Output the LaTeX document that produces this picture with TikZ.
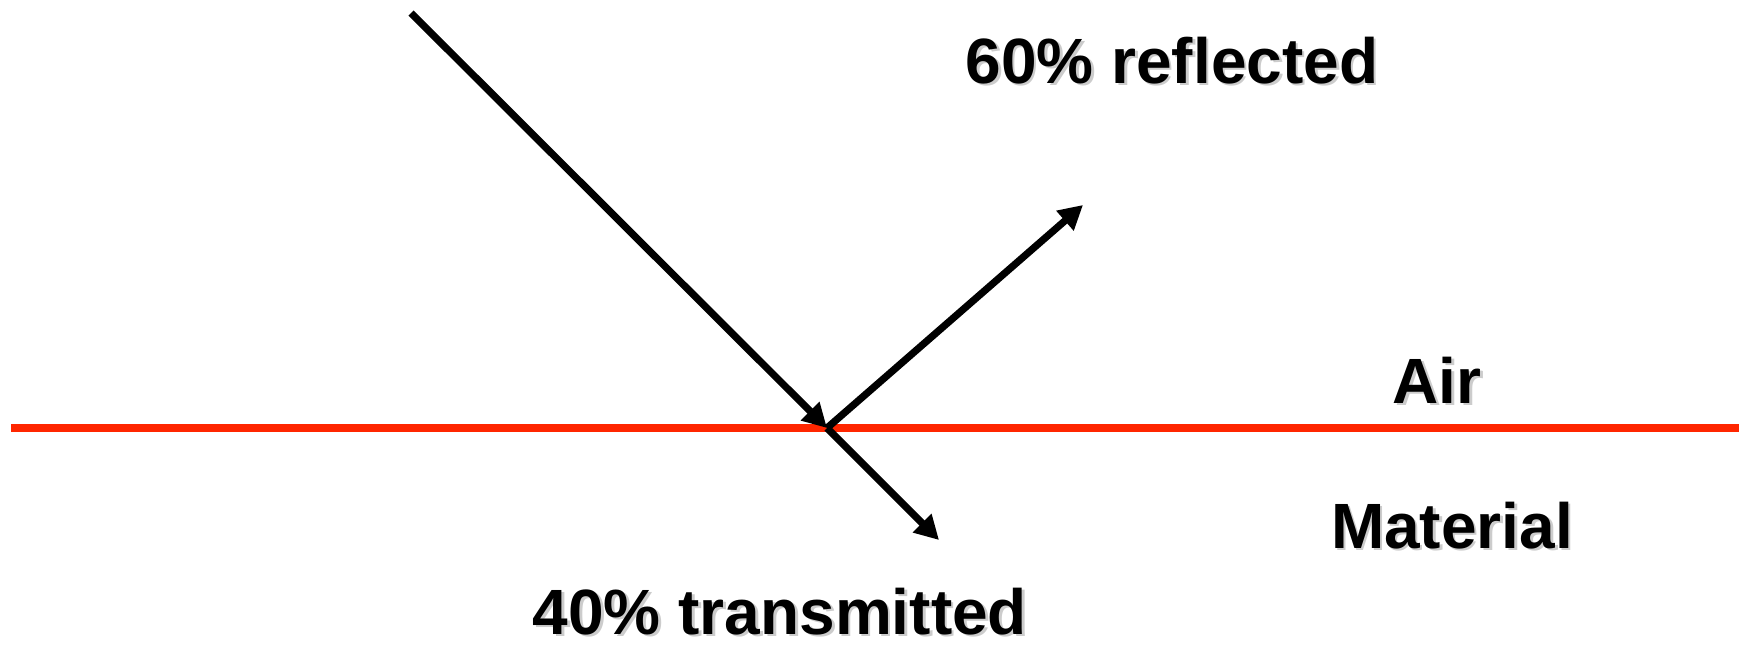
\documentclass[tikz,border=0pt]{standalone}
\usepackage{fontspec}
\setmainfont{Liberation Sans}
\usetikzlibrary{arrows.meta}
\definecolor{surfred}{RGB}{255,38,0}
\newcommand{\softshadow}[1]{\makebox[0pt][l]{\raisebox{-1.3pt}{\hspace{1.3pt}\textcolor{black!20}{#1}}}#1}
\begin{document}
\begin{tikzpicture}[x=0.5pt,y=-0.5pt,line width=3.6pt,
  ray/.style={-{Triangle[length=12pt,width=12.5pt]}},
  lbl/.style={anchor=base,inner sep=0pt,font=\bfseries\fontsize{32}{38}\selectfont}]
 \useasboundingbox (0,0) rectangle (1748,649);
 \coordinate (src) at (411,13); \coordinate (o) at (827,428);
 \coordinate (refl) at (1083,205); \coordinate (trans) at (939,540);
 \coordinate (w) at (11,428); \coordinate (e) at (1739,428);
 % surface first, so the rays sit on top of it
 \draw[surfred,line width=3.9pt] (w)--(e);
 \draw[ray] (src)--(o);
 \draw[ray] (o)--(refl);
 \draw[ray] (o)--(trans);
 \node[lbl] (reflbl) at (1172,83) {\softshadow{60\% reflected}};
 \node[lbl] (translbl) at (780,634) {\softshadow{40\% transmitted}};
 \node[lbl] (air) at (1437,403) {\softshadow{Air}};
 \node[lbl] (mat) at (1452,548) {\softshadow{Material}};
\end{tikzpicture}
\end{document}
